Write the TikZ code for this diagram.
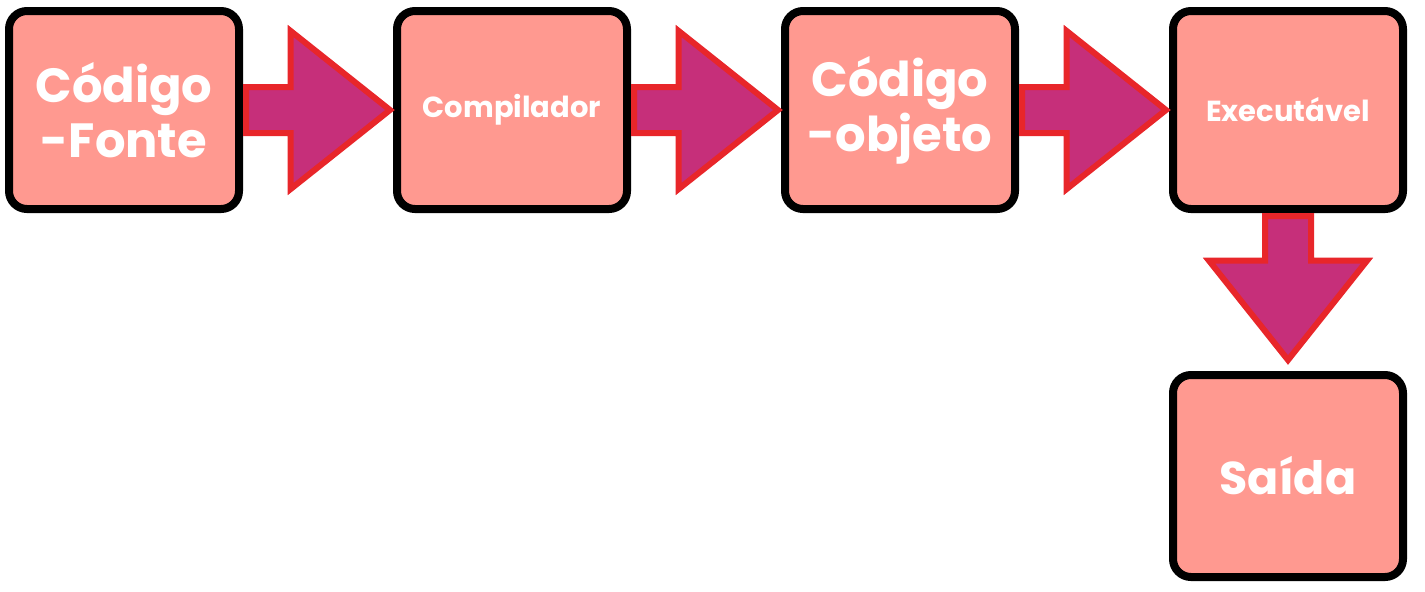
\documentclass[tikz,border=0pt]{standalone}
\usepackage{fontspec}
\setmainfont{Poppins}
\usetikzlibrary{calc, positioning, shapes.arrows}
\definecolor{salmon}{RGB}{255,153,144}
\definecolor{arrowFill}{RGB}{198,47,122}
\definecolor{arrowRed}{RGB}{232,38,42}

\begin{document}
\begin{tikzpicture}[
  x=0.5pt, y=-0.5pt,
  node distance=75pt,
  etapa/.style={draw=black, line width=4pt, rounded corners=9pt, fill=salmon, minimum width=115pt, minimum height=99pt, align=center, text=white, inner sep=2pt},
  grande/.style={font=\fontsize{24}{27.5}\selectfont\bfseries},
  pequeno/.style={font=\fontsize{14.5}{16}\selectfont\bfseries},
  seta/.style={single arrow, draw=arrowRed, fill=arrowFill, line width=3pt, minimum height=72pt, single arrow head extend=28pt, single arrow tip angle=77, inner sep=10pt, anchor=tail}
]
\useasboundingbox (0,0) rectangle (1425,591);

% Boxes of the chain
\node[etapa, grande] (fonte) at (124,110) {Código\\-Fonte};
\node[etapa, pequeno, right=of fonte] (compilador) {Compilador};
\node[etapa, grande, right=of compilador] (objeto) {Código\\-objeto};
\node[etapa, pequeno, right=of objeto] (executavel) {Executável};
\node[etapa, below=79pt of executavel, minimum height=101pt, font=\fontsize{23}{26}\selectfont\bfseries] (saida) {Saída};

% Block arrows between the boxes
\node[seta] (s1) at (fonte.east) {};
\node[seta] (s2) at (compilador.east) {};
\node[seta] (s3) at (objeto.east) {};
\node[seta, shape border rotate=270] (s4) at (executavel.south) {};
\end{tikzpicture}
\end{document}
